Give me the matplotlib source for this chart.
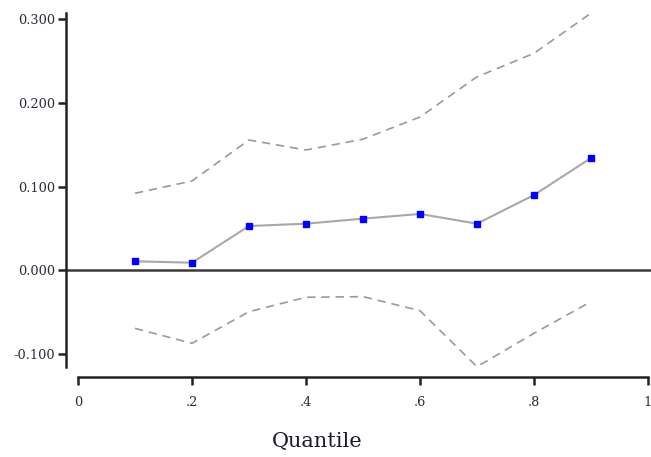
import matplotlib
matplotlib.use("Agg")
import matplotlib.pyplot as plt

quantiles = [0.1, 0.2, 0.3, 0.4, 0.5, 0.6, 0.7, 0.8, 0.9]
coef = [0.0107, 0.0090, 0.0528, 0.0556, 0.0616, 0.0672, 0.0556, 0.0898, 0.134]
upper = [0.0919, 0.1066, 0.1555, 0.1436, 0.1565, 0.183, 0.231, 0.259, 0.307]
lower = [-0.0694, -0.0873, -0.0495, -0.0323, -0.0315, -0.0483, -0.1152, -0.0753, -0.0375]
yticks = [-0.1, 0.0, 0.1, 0.2, 0.3]
ytick_labels = ["-0.100", "0.000", "0.100", "0.200", "0.300"]
xticks = [0, 0.2, 0.4, 0.6, 0.8, 1.0]
xtick_labels = ["0", ".2", ".4", ".6", ".8", "1"]

W, H = 651, 457
fig = plt.figure(figsize=(W / 100, H / 100), dpi=100)
fig.patch.set_facecolor("white")
ax = fig.add_axes([66 / W, (H - 377) / H, (W - 66) / W, (377 - 13) / H])

ax.set_xlim(-0.021, 1.0053)
ax.set_ylim(-0.1275, 0.3072)

ax.axhline(0, color="#3a3a3a", lw=1.8, zorder=2)
ax.plot(quantiles, upper, color="#9a9a9a", lw=1.2, ls=(0, (5, 3.5)), zorder=3)
ax.plot(quantiles, lower, color="#9a9a9a", lw=1.2, ls=(0, (5, 3.5)), zorder=3)
ax.plot(quantiles, coef, color="#a8a8a8", lw=1.5, zorder=4)
ax.plot(quantiles, coef, ls="none", marker="s", ms=5, color="#0000ff", mec="#0000ff", zorder=5)

for s in ["top", "right"]:
    ax.spines[s].set_visible(False)
ax.spines["left"].set_bounds(min(lower), max(upper))
ax.spines["bottom"].set_bounds(0, 1)
for s in ["left", "bottom"]:
    ax.spines[s].set_linewidth(1.8)
    ax.spines[s].set_color("#222222")

font = "DejaVu Serif"
ax.set_yticks(yticks)
ax.set_yticklabels(ytick_labels, fontfamily=font, fontsize=9.3, color="#2a2a3a")
ax.set_xticks(xticks)
ax.set_xticklabels(xtick_labels, fontfamily=font, fontsize=9.3, color="#2a2a3a")
ax.tick_params(axis="y", length=6, width=1.8, pad=2, color="#222222")
ax.tick_params(axis="x", length=6, width=1.8, pad=8, color="#222222")
ax.patch.set_visible(False)

fig.text(317 / W, 1 - 447 / H, "Quantile", ha="center", va="baseline",
         fontfamily=font, fontsize=15, color="#1a1a2a")

fig.savefig("out.png", dpi=100)
